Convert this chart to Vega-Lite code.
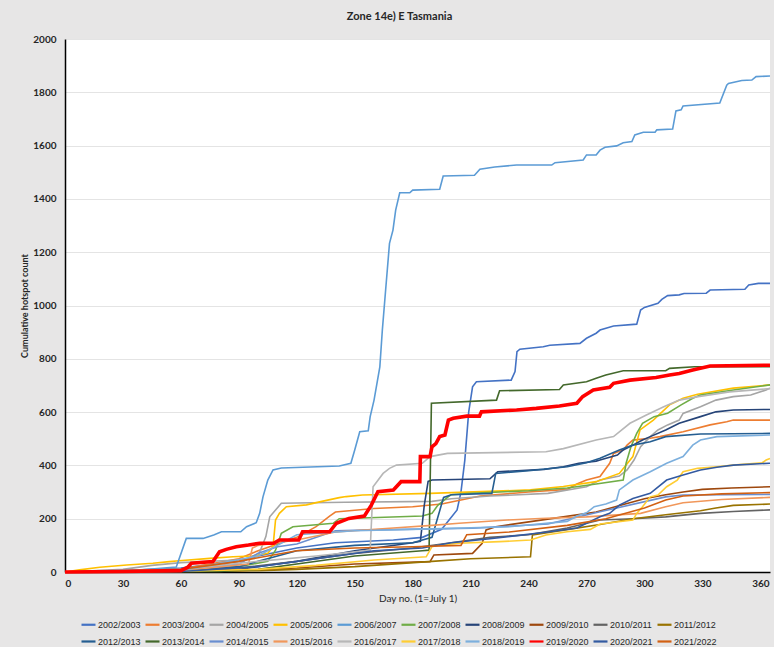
{
"$schema": "https://vega.github.io/schema/vega-lite/v6.json",
"width": 705, "height": 533,
"autosize": {"type": "none"},
"padding": {"left": 65, "top": 39, "right": 4, "bottom": 75},
"background": "#E7E6E6",
"title": {"text": "Zone 14e) E Tasmania", "fontSize": 11, "fontWeight": "bold", "font": "Lato", "color": "#262626", "offset": 12, "dx": -18},
"datasets": {"d": [
{"s":"2002/2003","d":0,"v":0},{"s":"2002/2003","d":30,"v":5},{"s":"2002/2003","d":60,"v":15},{"s":"2002/2003","d":90,"v":40},{"s":"2002/2003","d":100,"v":60},{"s":"2002/2003","d":120,"v":90},{"s":"2002/2003","d":140,"v":110},{"s":"2002/2003","d":170,"v":120},{"s":"2002/2003","d":185,"v":130},{"s":"2002/2003","d":195,"v":160},{"s":"2002/2003","d":203,"v":233},{"s":"2002/2003","d":205,"v":300},{"s":"2002/2003","d":207,"v":420},{"s":"2002/2003","d":209,"v":600},{"s":"2002/2003","d":211,"v":695},{"s":"2002/2003","d":213,"v":714},{"s":"2002/2003","d":231,"v":720},{"s":"2002/2003","d":233,"v":752},{"s":"2002/2003","d":234,"v":827},{"s":"2002/2003","d":235.5,"v":836},{"s":"2002/2003","d":247.6,"v":845},{"s":"2002/2003","d":251,"v":851},{"s":"2002/2003","d":266.6,"v":858},{"s":"2002/2003","d":270,"v":877},{"s":"2002/2003","d":275,"v":896},{"s":"2002/2003","d":277,"v":908},{"s":"2002/2003","d":284,"v":923},{"s":"2002/2003","d":296,"v":930},{"s":"2002/2003","d":298,"v":983},{"s":"2002/2003","d":300,"v":993},{"s":"2002/2003","d":307,"v":1008},{"s":"2002/2003","d":309,"v":1023},{"s":"2002/2003","d":312,"v":1037},{"s":"2002/2003","d":318,"v":1040},{"s":"2002/2003","d":320.5,"v":1045},{"s":"2002/2003","d":332,"v":1046},{"s":"2002/2003","d":334,"v":1058},{"s":"2002/2003","d":352,"v":1061},{"s":"2002/2003","d":354,"v":1077},{"s":"2002/2003","d":359,"v":1083},{"s":"2002/2003","d":365,"v":1083},
{"s":"2003/2004","d":0,"v":0},{"s":"2003/2004","d":30,"v":3},{"s":"2003/2004","d":60,"v":10},{"s":"2003/2004","d":90,"v":50},{"s":"2003/2004","d":100,"v":80},{"s":"2003/2004","d":120,"v":130},{"s":"2003/2004","d":130,"v":170},{"s":"2003/2004","d":137,"v":210},{"s":"2003/2004","d":140,"v":225},{"s":"2003/2004","d":160,"v":238},{"s":"2003/2004","d":180,"v":245},{"s":"2003/2004","d":195,"v":255},{"s":"2003/2004","d":205,"v":270},{"s":"2003/2004","d":215,"v":285},{"s":"2003/2004","d":240,"v":300},{"s":"2003/2004","d":260,"v":310},{"s":"2003/2004","d":265,"v":330},{"s":"2003/2004","d":270,"v":345},{"s":"2003/2004","d":277,"v":358},{"s":"2003/2004","d":282,"v":408},{"s":"2003/2004","d":284,"v":445},{"s":"2003/2004","d":289,"v":458},{"s":"2003/2004","d":291,"v":476},{"s":"2003/2004","d":294,"v":495},{"s":"2003/2004","d":303,"v":502},{"s":"2003/2004","d":308,"v":508},{"s":"2003/2004","d":320,"v":526},{"s":"2003/2004","d":334,"v":552},{"s":"2003/2004","d":342.6,"v":564},{"s":"2003/2004","d":346,"v":570},{"s":"2003/2004","d":365,"v":570},
{"s":"2004/2005","d":0,"v":0},{"s":"2004/2005","d":30,"v":10},{"s":"2004/2005","d":45,"v":25},{"s":"2004/2005","d":60,"v":35},{"s":"2004/2005","d":90,"v":45},{"s":"2004/2005","d":100,"v":60},{"s":"2004/2005","d":104,"v":133},{"s":"2004/2005","d":106,"v":207},{"s":"2004/2005","d":112,"v":258},{"s":"2004/2005","d":145,"v":262},{"s":"2004/2005","d":190,"v":265},{"s":"2004/2005","d":200,"v":275},{"s":"2004/2005","d":220,"v":285},{"s":"2004/2005","d":250,"v":295},{"s":"2004/2005","d":270,"v":320},{"s":"2004/2005","d":277,"v":345},{"s":"2004/2005","d":287,"v":360},{"s":"2004/2005","d":291,"v":383},{"s":"2004/2005","d":294.6,"v":420},{"s":"2004/2005","d":298,"v":470},{"s":"2004/2005","d":303,"v":508},{"s":"2004/2005","d":307,"v":533},{"s":"2004/2005","d":312,"v":552},{"s":"2004/2005","d":318,"v":570},{"s":"2004/2005","d":320,"v":595},{"s":"2004/2005","d":329,"v":620},{"s":"2004/2005","d":337,"v":645},{"s":"2004/2005","d":346,"v":658},{"s":"2004/2005","d":355,"v":664},{"s":"2004/2005","d":363,"v":683},{"s":"2004/2005","d":365,"v":690},
{"s":"2005/2006","d":0,"v":0},{"s":"2005/2006","d":7.5,"v":8},{"s":"2005/2006","d":18,"v":18},{"s":"2005/2006","d":32,"v":26},{"s":"2005/2006","d":45.5,"v":33},{"s":"2005/2006","d":54,"v":39},{"s":"2005/2006","d":59,"v":42},{"s":"2005/2006","d":75,"v":51},{"s":"2005/2006","d":87,"v":57},{"s":"2005/2006","d":97,"v":60},{"s":"2005/2006","d":105,"v":70},{"s":"2005/2006","d":107.7,"v":95},{"s":"2005/2006","d":109,"v":195},{"s":"2005/2006","d":111,"v":220},{"s":"2005/2006","d":114.6,"v":245},{"s":"2005/2006","d":125,"v":252},{"s":"2005/2006","d":133,"v":265},{"s":"2005/2006","d":142,"v":279},{"s":"2005/2006","d":145.6,"v":283},{"s":"2005/2006","d":154,"v":289},{"s":"2005/2006","d":189,"v":295},{"s":"2005/2006","d":241,"v":308},{"s":"2005/2006","d":258,"v":321},{"s":"2005/2006","d":275,"v":339},{"s":"2005/2006","d":287,"v":370},{"s":"2005/2006","d":294,"v":433},{"s":"2005/2006","d":297.7,"v":533},{"s":"2005/2006","d":304.6,"v":570},{"s":"2005/2006","d":313,"v":627},{"s":"2005/2006","d":320,"v":652},{"s":"2005/2006","d":327.5,"v":667},{"s":"2005/2006","d":346,"v":690},{"s":"2005/2006","d":365,"v":702},
{"s":"2006/2007","d":0,"v":0},{"s":"2006/2007","d":20,"v":3},{"s":"2006/2007","d":40,"v":8},{"s":"2006/2007","d":57.6,"v":19},{"s":"2006/2007","d":62.8,"v":126},{"s":"2006/2007","d":71.5,"v":126},{"s":"2006/2007","d":77,"v":139},{"s":"2006/2007","d":81,"v":151},{"s":"2006/2007","d":91,"v":151},{"s":"2006/2007","d":94,"v":170},{"s":"2006/2007","d":99,"v":185},{"s":"2006/2007","d":100.8,"v":220},{"s":"2006/2007","d":102.5,"v":282},{"s":"2006/2007","d":105,"v":345},{"s":"2006/2007","d":107.7,"v":383},{"s":"2006/2007","d":112,"v":390},{"s":"2006/2007","d":142,"v":398},{"s":"2006/2007","d":148,"v":408},{"s":"2006/2007","d":150,"v":458},{"s":"2006/2007","d":152.6,"v":526},{"s":"2006/2007","d":157,"v":530},{"s":"2006/2007","d":158,"v":583},{"s":"2006/2007","d":160,"v":645},{"s":"2006/2007","d":163,"v":770},{"s":"2006/2007","d":164.3,"v":908},{"s":"2006/2007","d":166,"v":1058},{"s":"2006/2007","d":168,"v":1233},{"s":"2006/2007","d":169.8,"v":1283},{"s":"2006/2007","d":171.2,"v":1358},{"s":"2006/2007","d":173.3,"v":1423},{"s":"2006/2007","d":178.5,"v":1423},{"s":"2006/2007","d":180,"v":1433},{"s":"2006/2007","d":194,"v":1436},{"s":"2006/2007","d":195.8,"v":1486},{"s":"2006/2007","d":212,"v":1489},{"s":"2006/2007","d":214.8,"v":1511},{"s":"2006/2007","d":222.5,"v":1520},{"s":"2006/2007","d":233.8,"v":1527},{"s":"2006/2007","d":252,"v":1527},{"s":"2006/2007","d":253.7,"v":1536},{"s":"2006/2007","d":268.3,"v":1546},{"s":"2006/2007","d":270,"v":1565},{"s":"2006/2007","d":275,"v":1565},{"s":"2006/2007","d":277,"v":1583},{"s":"2006/2007","d":279.6,"v":1594},{"s":"2006/2007","d":285.6,"v":1599},{"s":"2006/2007","d":289,"v":1611},{"s":"2006/2007","d":293.5,"v":1615},{"s":"2006/2007","d":295,"v":1640},{"s":"2006/2007","d":299.4,"v":1650},{"s":"2006/2007","d":305.5,"v":1650},{"s":"2006/2007","d":306.4,"v":1659},{"s":"2006/2007","d":314.6,"v":1662},{"s":"2006/2007","d":316.3,"v":1730},{"s":"2006/2007","d":319,"v":1734},{"s":"2006/2007","d":320,"v":1749},{"s":"2006/2007","d":339,"v":1760},{"s":"2006/2007","d":342.6,"v":1827},{"s":"2006/2007","d":343.5,"v":1833},{"s":"2006/2007","d":350.4,"v":1844},{"s":"2006/2007","d":355.6,"v":1846},{"s":"2006/2007","d":357.8,"v":1859},{"s":"2006/2007","d":365,"v":1861},
{"s":"2007/2008","d":0,"v":0},{"s":"2007/2008","d":30,"v":2},{"s":"2007/2008","d":60,"v":5},{"s":"2007/2008","d":90,"v":20},{"s":"2007/2008","d":105,"v":40},{"s":"2007/2008","d":109,"v":82},{"s":"2007/2008","d":112,"v":145},{"s":"2007/2008","d":118,"v":170},{"s":"2007/2008","d":139,"v":183},{"s":"2007/2008","d":142,"v":200},{"s":"2007/2008","d":185,"v":210},{"s":"2007/2008","d":190,"v":220},{"s":"2007/2008","d":193,"v":250},{"s":"2007/2008","d":198,"v":280},{"s":"2007/2008","d":200,"v":290},{"s":"2007/2008","d":210,"v":295},{"s":"2007/2008","d":240,"v":305},{"s":"2007/2008","d":260,"v":315},{"s":"2007/2008","d":275,"v":330},{"s":"2007/2008","d":289,"v":345},{"s":"2007/2008","d":290.5,"v":408},{"s":"2007/2008","d":293,"v":470},{"s":"2007/2008","d":296,"v":520},{"s":"2007/2008","d":299,"v":558},{"s":"2007/2008","d":305,"v":583},{"s":"2007/2008","d":312,"v":596},{"s":"2007/2008","d":319,"v":627},{"s":"2007/2008","d":325,"v":652},{"s":"2007/2008","d":329,"v":664},{"s":"2007/2008","d":346,"v":683},{"s":"2007/2008","d":365,"v":702},
{"s":"2008/2009","d":0,"v":0},{"s":"2008/2009","d":60,"v":3},{"s":"2008/2009","d":90,"v":10},{"s":"2008/2009","d":120,"v":40},{"s":"2008/2009","d":150,"v":80},{"s":"2008/2009","d":180,"v":110},{"s":"2008/2009","d":184,"v":115},{"s":"2008/2009","d":186,"v":250},{"s":"2008/2009","d":188,"v":340},{"s":"2008/2009","d":190,"v":345},{"s":"2008/2009","d":220,"v":350},{"s":"2008/2009","d":224,"v":376},{"s":"2008/2009","d":248,"v":385},{"s":"2008/2009","d":258,"v":395},{"s":"2008/2009","d":266,"v":408},{"s":"2008/2009","d":275,"v":416},{"s":"2008/2009","d":277,"v":420},{"s":"2008/2009","d":286,"v":439},{"s":"2008/2009","d":289,"v":458},{"s":"2008/2009","d":294,"v":476},{"s":"2008/2009","d":299,"v":495},{"s":"2008/2009","d":303,"v":508},{"s":"2008/2009","d":311,"v":533},{"s":"2008/2009","d":318,"v":558},{"s":"2008/2009","d":329,"v":583},{"s":"2008/2009","d":337,"v":601},{"s":"2008/2009","d":346,"v":608},{"s":"2008/2009","d":365,"v":610},
{"s":"2009/2010","d":0,"v":0},{"s":"2009/2010","d":90,"v":5},{"s":"2009/2010","d":120,"v":15},{"s":"2009/2010","d":150,"v":30},{"s":"2009/2010","d":189,"v":39},{"s":"2009/2010","d":191,"v":64},{"s":"2009/2010","d":211,"v":70},{"s":"2009/2010","d":216,"v":108},{"s":"2009/2010","d":218,"v":158},{"s":"2009/2010","d":223,"v":170},{"s":"2009/2010","d":258,"v":207},{"s":"2009/2010","d":275,"v":225},{"s":"2009/2010","d":290,"v":255},{"s":"2009/2010","d":300,"v":275},{"s":"2009/2010","d":311,"v":290},{"s":"2009/2010","d":320,"v":300},{"s":"2009/2010","d":330,"v":310},{"s":"2009/2010","d":345,"v":315},{"s":"2009/2010","d":365,"v":320},
{"s":"2010/2011","d":0,"v":0},{"s":"2010/2011","d":60,"v":5},{"s":"2010/2011","d":90,"v":15},{"s":"2010/2011","d":120,"v":40},{"s":"2010/2011","d":150,"v":70},{"s":"2010/2011","d":180,"v":90},{"s":"2010/2011","d":200,"v":110},{"s":"2010/2011","d":220,"v":130},{"s":"2010/2011","d":240,"v":140},{"s":"2010/2011","d":260,"v":165},{"s":"2010/2011","d":277,"v":195},{"s":"2010/2011","d":294,"v":200},{"s":"2010/2011","d":311,"v":207},{"s":"2010/2011","d":329,"v":220},{"s":"2010/2011","d":346,"v":227},{"s":"2010/2011","d":365,"v":233},
{"s":"2011/2012","d":0,"v":0},{"s":"2011/2012","d":60,"v":2},{"s":"2011/2012","d":100,"v":5},{"s":"2011/2012","d":120,"v":10},{"s":"2011/2012","d":150,"v":20},{"s":"2011/2012","d":190,"v":40},{"s":"2011/2012","d":210,"v":50},{"s":"2011/2012","d":241,"v":57},{"s":"2011/2012","d":242,"v":139},{"s":"2011/2012","d":259,"v":158},{"s":"2011/2012","d":277,"v":178},{"s":"2011/2012","d":294,"v":200},{"s":"2011/2012","d":311,"v":215},{"s":"2011/2012","d":329,"v":230},{"s":"2011/2012","d":337,"v":240},{"s":"2011/2012","d":346,"v":250},{"s":"2011/2012","d":365,"v":255},
{"s":"2012/2013","d":0,"v":0},{"s":"2012/2013","d":60,"v":5},{"s":"2012/2013","d":90,"v":20},{"s":"2012/2013","d":100,"v":40},{"s":"2012/2013","d":120,"v":80},{"s":"2012/2013","d":150,"v":100},{"s":"2012/2013","d":180,"v":110},{"s":"2012/2013","d":190,"v":130},{"s":"2012/2013","d":196,"v":280},{"s":"2012/2013","d":200,"v":290},{"s":"2012/2013","d":221,"v":295},{"s":"2012/2013","d":223,"v":370},{"s":"2012/2013","d":240,"v":380},{"s":"2012/2013","d":260,"v":395},{"s":"2012/2013","d":270,"v":410},{"s":"2012/2013","d":277,"v":427},{"s":"2012/2013","d":287,"v":458},{"s":"2012/2013","d":294,"v":476},{"s":"2012/2013","d":303,"v":489},{"s":"2012/2013","d":311,"v":508},{"s":"2012/2013","d":329,"v":518},{"s":"2012/2013","d":365,"v":520},
{"s":"2013/2014","d":0,"v":0},{"s":"2013/2014","d":80,"v":2},{"s":"2013/2014","d":100,"v":10},{"s":"2013/2014","d":120,"v":30},{"s":"2013/2014","d":150,"v":60},{"s":"2013/2014","d":185,"v":80},{"s":"2013/2014","d":188.5,"v":82},{"s":"2013/2014","d":189.7,"v":633},{"s":"2013/2014","d":223.4,"v":645},{"s":"2013/2014","d":225,"v":680},{"s":"2013/2014","d":256,"v":685},{"s":"2013/2014","d":258,"v":702},{"s":"2013/2014","d":270,"v":714},{"s":"2013/2014","d":275,"v":727},{"s":"2013/2014","d":280,"v":739},{"s":"2013/2014","d":289,"v":755},{"s":"2013/2014","d":311,"v":755},{"s":"2013/2014","d":313,"v":764},{"s":"2013/2014","d":326,"v":770},{"s":"2013/2014","d":365,"v":770},
{"s":"2014/2015","d":0,"v":0},{"s":"2014/2015","d":60,"v":5},{"s":"2014/2015","d":90,"v":30},{"s":"2014/2015","d":100,"v":70},{"s":"2014/2015","d":110,"v":95},{"s":"2014/2015","d":120,"v":105},{"s":"2014/2015","d":140,"v":155},{"s":"2014/2015","d":160,"v":158},{"s":"2014/2015","d":211,"v":164},{"s":"2014/2015","d":250,"v":180},{"s":"2014/2015","d":277,"v":226},{"s":"2014/2015","d":311,"v":282},{"s":"2014/2015","d":320,"v":289},{"s":"2014/2015","d":365,"v":291},
{"s":"2015/2016","d":0,"v":0},{"s":"2015/2016","d":60,"v":5},{"s":"2015/2016","d":95,"v":30},{"s":"2015/2016","d":97,"v":90},{"s":"2015/2016","d":100,"v":100},{"s":"2015/2016","d":120,"v":120},{"s":"2015/2016","d":140,"v":150},{"s":"2015/2016","d":170,"v":165},{"s":"2015/2016","d":190,"v":175},{"s":"2015/2016","d":204,"v":183},{"s":"2015/2016","d":229,"v":195},{"s":"2015/2016","d":246,"v":201},{"s":"2015/2016","d":270,"v":207},{"s":"2015/2016","d":298,"v":220},{"s":"2015/2016","d":311,"v":245},{"s":"2015/2016","d":320,"v":260},{"s":"2015/2016","d":340,"v":272},{"s":"2015/2016","d":365,"v":280},
{"s":"2016/2017","d":0,"v":0},{"s":"2016/2017","d":30,"v":5},{"s":"2016/2017","d":60,"v":10},{"s":"2016/2017","d":100,"v":40},{"s":"2016/2017","d":130,"v":60},{"s":"2016/2017","d":155,"v":80},{"s":"2016/2017","d":158,"v":82},{"s":"2016/2017","d":159.5,"v":320},{"s":"2016/2017","d":164.7,"v":370},{"s":"2016/2017","d":168,"v":389},{"s":"2016/2017","d":171.6,"v":401},{"s":"2016/2017","d":185,"v":408},{"s":"2016/2017","d":189,"v":433},{"s":"2016/2017","d":198,"v":445},{"s":"2016/2017","d":249,"v":451},{"s":"2016/2017","d":258,"v":463},{"s":"2016/2017","d":275,"v":495},{"s":"2016/2017","d":284,"v":508},{"s":"2016/2017","d":292.5,"v":558},{"s":"2016/2017","d":301,"v":589},{"s":"2016/2017","d":310,"v":620},{"s":"2016/2017","d":318,"v":645},{"s":"2016/2017","d":327,"v":657},{"s":"2016/2017","d":344,"v":676},{"s":"2016/2017","d":365,"v":688},
{"s":"2017/2018","d":0,"v":0},{"s":"2017/2018","d":60,"v":3},{"s":"2017/2018","d":100,"v":10},{"s":"2017/2018","d":130,"v":25},{"s":"2017/2018","d":160,"v":45},{"s":"2017/2018","d":187,"v":57},{"s":"2017/2018","d":190,"v":95},{"s":"2017/2018","d":194,"v":101},{"s":"2017/2018","d":204,"v":108},{"s":"2017/2018","d":225,"v":114},{"s":"2017/2018","d":241,"v":120},{"s":"2017/2018","d":249,"v":139},{"s":"2017/2018","d":260,"v":151},{"s":"2017/2018","d":272,"v":160},{"s":"2017/2018","d":277,"v":180},{"s":"2017/2018","d":294,"v":195},{"s":"2017/2018","d":296,"v":220},{"s":"2017/2018","d":299,"v":245},{"s":"2017/2018","d":303,"v":282},{"s":"2017/2018","d":307,"v":289},{"s":"2017/2018","d":311.5,"v":320},{"s":"2017/2018","d":317,"v":345},{"s":"2017/2018","d":320,"v":376},{"s":"2017/2018","d":327.5,"v":389},{"s":"2017/2018","d":337.6,"v":395},{"s":"2017/2018","d":346,"v":401},{"s":"2017/2018","d":361,"v":410},{"s":"2017/2018","d":363,"v":420},{"s":"2017/2018","d":365,"v":426},
{"s":"2018/2019","d":0,"v":0},{"s":"2018/2019","d":60,"v":5},{"s":"2018/2019","d":100,"v":60},{"s":"2018/2019","d":110,"v":100},{"s":"2018/2019","d":120,"v":140},{"s":"2018/2019","d":150,"v":155},{"s":"2018/2019","d":190,"v":162},{"s":"2018/2019","d":230,"v":170},{"s":"2018/2019","d":260,"v":190},{"s":"2018/2019","d":265,"v":210},{"s":"2018/2019","d":270,"v":222},{"s":"2018/2019","d":274,"v":245},{"s":"2018/2019","d":280,"v":255},{"s":"2018/2019","d":285.6,"v":270},{"s":"2018/2019","d":287,"v":308},{"s":"2018/2019","d":294,"v":345},{"s":"2018/2019","d":303,"v":376},{"s":"2018/2019","d":311.5,"v":408},{"s":"2018/2019","d":320,"v":433},{"s":"2018/2019","d":325,"v":476},{"s":"2018/2019","d":329,"v":495},{"s":"2018/2019","d":337.5,"v":508},{"s":"2018/2019","d":346,"v":510},{"s":"2018/2019","d":365,"v":514},
{"s":"2019/2020","d":0,"v":0},{"s":"2019/2020","d":30,"v":2},{"s":"2019/2020","d":60,"v":5},{"s":"2019/2020","d":63.6,"v":18},{"s":"2019/2020","d":65.4,"v":33},{"s":"2019/2020","d":76.6,"v":39},{"s":"2019/2020","d":80,"v":76},{"s":"2019/2020","d":83.5,"v":85},{"s":"2019/2020","d":88.7,"v":95},{"s":"2019/2020","d":95,"v":101},{"s":"2019/2020","d":100.8,"v":108},{"s":"2019/2020","d":108,"v":108},{"s":"2019/2020","d":111,"v":120},{"s":"2019/2020","d":121,"v":120},{"s":"2019/2020","d":123,"v":151},{"s":"2019/2020","d":137,"v":151},{"s":"2019/2020","d":140.5,"v":183},{"s":"2019/2020","d":147,"v":201},{"s":"2019/2020","d":155,"v":210},{"s":"2019/2020","d":158.6,"v":251},{"s":"2019/2020","d":162,"v":301},{"s":"2019/2020","d":170,"v":308},{"s":"2019/2020","d":174,"v":339},{"s":"2019/2020","d":183.7,"v":339},{"s":"2019/2020","d":184,"v":433},{"s":"2019/2020","d":189,"v":433},{"s":"2019/2020","d":190,"v":470},{"s":"2019/2020","d":192,"v":482},{"s":"2019/2020","d":194,"v":508},{"s":"2019/2020","d":196.7,"v":514},{"s":"2019/2020","d":198.5,"v":570},{"s":"2019/2020","d":201,"v":577},{"s":"2019/2020","d":208,"v":585},{"s":"2019/2020","d":214.6,"v":585},{"s":"2019/2020","d":215.6,"v":601},{"s":"2019/2020","d":233.8,"v":608},{"s":"2019/2020","d":244,"v":614},{"s":"2019/2020","d":256,"v":623},{"s":"2019/2020","d":265,"v":633},{"s":"2019/2020","d":268,"v":658},{"s":"2019/2020","d":273.5,"v":683},{"s":"2019/2020","d":282,"v":693},{"s":"2019/2020","d":284,"v":708},{"s":"2019/2020","d":292.5,"v":720},{"s":"2019/2020","d":306,"v":730},{"s":"2019/2020","d":313,"v":739},{"s":"2019/2020","d":318,"v":745},{"s":"2019/2020","d":325,"v":758},{"s":"2019/2020","d":334,"v":773},{"s":"2019/2020","d":365,"v":776},
{"s":"2020/2021","d":0,"v":0},{"s":"2020/2021","d":60,"v":2},{"s":"2020/2021","d":100,"v":20},{"s":"2020/2021","d":130,"v":50},{"s":"2020/2021","d":160,"v":80},{"s":"2020/2021","d":185,"v":90},{"s":"2020/2021","d":200,"v":110},{"s":"2020/2021","d":220,"v":125},{"s":"2020/2021","d":250,"v":150},{"s":"2020/2021","d":265,"v":165},{"s":"2020/2021","d":277,"v":207},{"s":"2020/2021","d":282,"v":220},{"s":"2020/2021","d":287,"v":251},{"s":"2020/2021","d":294,"v":276},{"s":"2020/2021","d":303,"v":295},{"s":"2020/2021","d":311.5,"v":345},{"s":"2020/2021","d":320,"v":364},{"s":"2020/2021","d":329,"v":383},{"s":"2020/2021","d":337.5,"v":393},{"s":"2020/2021","d":346,"v":401},{"s":"2020/2021","d":365,"v":408},
{"s":"2021/2022","d":0,"v":0},{"s":"2021/2022","d":60,"v":10},{"s":"2021/2022","d":90,"v":40},{"s":"2021/2022","d":120,"v":80},{"s":"2021/2022","d":150,"v":90},{"s":"2021/2022","d":180,"v":95},{"s":"2021/2022","d":205,"v":100},{"s":"2021/2022","d":208,"v":140},{"s":"2021/2022","d":230,"v":150},{"s":"2021/2022","d":260,"v":175},{"s":"2021/2022","d":280,"v":200},{"s":"2021/2022","d":300,"v":240},{"s":"2021/2022","d":311,"v":270},{"s":"2021/2022","d":320,"v":285},{"s":"2021/2022","d":340,"v":293},{"s":"2021/2022","d":365,"v":298}
]},
"data": {"name": "d"},
"encoding": {
  "x": {"field": "d", "type": "quantitative", "scale": {"domain": [0, 365], "nice": false, "zero": false},
    "axis": {"values": [0,30,60,90,120,150,180,210,240,270,300,330,360], "title": "Day no. (1=July 1)", "grid": false, "ticks": false,
      "domainColor": "#000000", "domainWidth": 1.5, "labelFont": "Lato", "labelFontSize": 10, "labelFontWeight": "bold", "labelColor": "#262626", "labelPadding": 6,
      "titleFont": "Lato", "titleFontSize": 10, "titleFontWeight": "normal", "titleColor": "#262626", "titlePadding": 5}},
  "y": {"field": "v", "type": "quantitative", "scale": {"domain": [0, 2000], "nice": false},
    "axis": {"values": [0,200,400,600,800,1000,1200,1400,1600,1800,2000], "format": "d", "title": "Cumulative hotspot count", "grid": true, "gridColor": "#E4E4E4", "gridWidth": 1, "ticks": false,
      "domainColor": "#000000", "domainWidth": 1.5, "labelFont": "Lato", "labelFontSize": 10, "labelFontWeight": "bold", "labelColor": "#262626", "labelPadding": 9,
      "titleFont": "Lato", "titleFontSize": 9, "titleFontWeight": "bold", "titleColor": "#262626", "titlePadding": 3}},
  "color": {"field": "s", "type": "nominal",
    "scale": {"domain": ["2002/2003","2003/2004","2004/2005","2005/2006","2006/2007","2007/2008","2008/2009","2009/2010","2010/2011","2011/2012","2012/2013","2013/2014","2014/2015","2015/2016","2016/2017","2017/2018","2018/2019","2019/2020","2020/2021","2021/2022"],
      "range": ["#4472C4","#ED7D31","#A5A5A5","#FFC000","#5B9BD5","#70AD47","#264478","#9E480E","#636363","#997300","#255E91","#43682B","#698ED0","#F1975A","#B7B7B7","#FFCD33","#7CAFDD","#FF0000","#335AA1","#D26012"]},
    "legend": {"orient": "none", "legendX": 15, "legendY": 577, "direction": "horizontal", "columns": 10, "title": null,
      "symbolType": "stroke", "symbolSize": 196, "symbolStrokeWidth": 2.2, "labelFont": "Liberation Sans", "labelFontSize": 9, "labelColor": "#262626",
      "labelOffset": 1, "columnPadding": 0, "rowPadding": 3, "gridAlign": "all", "padding": 0, "labelLimit": 90}}
},
"layer": [
  {"mark": {"type": "line", "strokeWidth": 1.6}},
  {"transform": [{"filter": "datum.s === '2019/2020'"}], "mark": {"type": "line", "strokeWidth": 3.6}}
],
"config": {"view": {"fill": "#FFFFFF", "stroke": null}}
}
